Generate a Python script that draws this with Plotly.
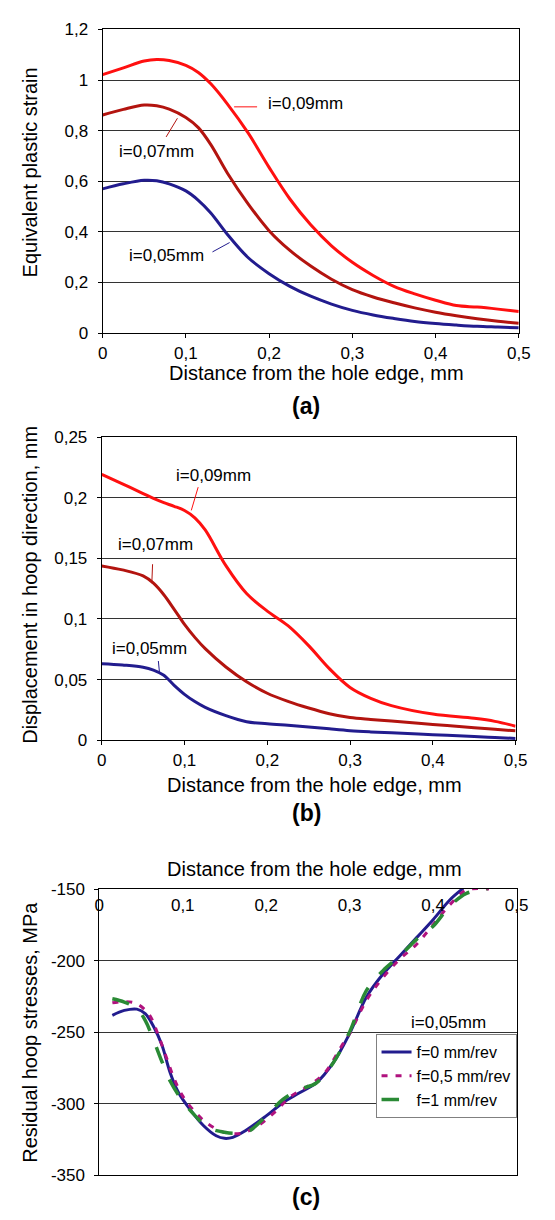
import plotly.graph_objects as go

# ---------------- data ----------------
# Panel (a): equivalent plastic strain
A_X = [0, 0.025, 0.05, 0.065, 0.08, 0.1, 0.115, 0.13, 0.15, 0.175, 0.2, 0.225, 0.25, 0.275, 0.3,
       0.325, 0.35, 0.375, 0.4, 0.425, 0.45, 0.475, 0.5]
A_I09 = [1.021, 1.048, 1.075, 1.081, 1.077, 1.058, 1.03, 0.985, 0.905, 0.79, 0.655, 0.53, 0.428, 0.345, 0.28,
         0.228, 0.185, 0.155, 0.13, 0.109, 0.103, 0.095, 0.086]
A_I07 = [0.862, 0.884, 0.901, 0.898, 0.885, 0.852, 0.812, 0.745, 0.632, 0.51, 0.405, 0.327, 0.265, 0.213, 0.172,
         0.143, 0.12, 0.1, 0.083, 0.069, 0.057, 0.047, 0.039]
A_I05 = [0.57, 0.59, 0.604, 0.602, 0.59, 0.562, 0.525, 0.475, 0.39, 0.298, 0.235, 0.185, 0.146, 0.115, 0.09,
         0.072, 0.058, 0.046, 0.038, 0.032, 0.027, 0.024, 0.021]

# Panel (b): displacement in hoop direction
B_X = [0, 0.025, 0.05, 0.0625, 0.075, 0.0875, 0.1, 0.1125, 0.125, 0.15, 0.175, 0.2, 0.225, 0.25, 0.275,
       0.3, 0.325, 0.35, 0.4, 0.45, 0.475, 0.5]
B_I09 = [0.2194, 0.2115, 0.2035, 0.1995, 0.196, 0.193, 0.1895, 0.1835, 0.1735, 0.144, 0.121, 0.1065, 0.0945,
         0.078, 0.059, 0.0435, 0.0345, 0.0285, 0.0215, 0.018, 0.0155, 0.0115]
B_I07 = [0.1438, 0.1405, 0.1355, 0.1295, 0.12, 0.108, 0.0955, 0.0848, 0.0755, 0.0604, 0.0482, 0.0387, 0.032,
         0.0265, 0.0218, 0.0186, 0.017, 0.0157, 0.013, 0.0103, 0.009, 0.0077]
B_I05 = [0.0631, 0.062, 0.0602, 0.0578, 0.0535, 0.0452, 0.0378, 0.0318, 0.027, 0.0202, 0.0152, 0.0135, 0.0122,
         0.0109, 0.0093, 0.0078, 0.0068, 0.006, 0.0045, 0.003, 0.0022, 0.0014]

# Panel (c): residual hoop stresses (i=0,05mm)
C_X_F0 = [0.0156, 0.03, 0.045, 0.055, 0.065, 0.075, 0.085, 0.095, 0.11, 0.125, 0.14, 0.15, 0.16, 0.175,
          0.2, 0.22, 0.24, 0.26, 0.28, 0.3, 0.32, 0.34, 0.36, 0.38, 0.4, 0.42, 0.436]
C_Y_F0 = [-238.2, -234.8, -233.9, -237, -246, -259, -278.6, -292.4, -305, -315.4, -322.4, -324.2, -323.5, -318.9,
          -308.5, -299.3, -292.4, -285.5, -271.7, -250.9, -225.6, -209.4, -196.8, -184.1, -171.4, -157.6, -149.5]
C_X_F05 = [0.0156, 0.03, 0.045, 0.06, 0.07, 0.08, 0.09, 0.1, 0.115, 0.13, 0.15, 0.17, 0.19, 0.21, 0.23, 0.25,
           0.27, 0.29, 0.3, 0.32, 0.34, 0.36, 0.38, 0.4, 0.42, 0.44, 0.467]
C_Y_F05 = [-229.5, -228.6, -230.2, -238, -251, -267, -283, -294.7, -306, -314, -320, -320.7, -315.4, -306, -294.7, -287.8,
           -278.6, -260, -251, -227.9, -211.8, -199, -188.7, -174.9, -161, -150.7, -150]
C_X_F1 = [0.0156, 0.03, 0.045, 0.055, 0.065, 0.075, 0.085, 0.1, 0.115, 0.13, 0.15, 0.165, 0.18, 0.2, 0.22, 0.24,
          0.26, 0.28, 0.3, 0.32, 0.34, 0.36, 0.38, 0.4, 0.42, 0.44, 0.465]
C_Y_F1 = [-226.7, -229, -233.6, -241.7, -255.5, -270.5, -284.3, -298.2, -308.5, -316.6, -320, -320.7, -318.9, -308.5, -297, -290,
          -285.5, -271.7, -249.8, -221, -207, -196.8, -185.3, -176, -162, -153, -150]

# Ticks
X_TICKS = [0, 0.1, 0.2, 0.3, 0.4, 0.5]
X_TICKTEXT = ["0", "0,1", "0,2", "0,3", "0,4", "0,5"]
A_YTICKS = [0, 0.2, 0.4, 0.6, 0.8, 1.0, 1.2]
A_YTICKTEXT = ["0", "0,2", "0,4", "0,6", "0,8", "1", "1,2"]
B_YTICKS = [0, 0.05, 0.1, 0.15, 0.2, 0.25]
B_YTICKTEXT = ["0", "0,05", "0,1", "0,15", "0,2", "0,25"]
C_YTICKS = [-350, -300, -250, -200, -150]
C_YTICKTEXT = ["-350", "-300", "-250", "-200", "-150"]

SERIES_NAMES = ["i=0,09mm", "i=0,07mm", "i=0,05mm"]
LEGEND_NAMES = ["f=0 mm/rev", "f=0,5 mm/rev", "f=1 mm/rev"]

# ---------------- style ----------------
W, H = 555, 1220
FONT = "Liberation Sans, Arial, sans-serif"
RED = "#FF1010"
DARKRED = "#B3140F"
NAVY = "#221C8E"
MAGENTA = "#B0127E"
GREEN = "#2A8A35"
GRID = "#333333"


def px(x):
    return x / W


def py(y):
    return 1 - y / H


fig = go.Figure()

# Panel (a)
for ys, c, n in [(A_I09, RED, SERIES_NAMES[0]), (A_I07, DARKRED, SERIES_NAMES[1]), (A_I05, NAVY, SERIES_NAMES[2])]:
    fig.add_trace(go.Scatter(x=A_X, y=ys, mode="lines", name=n, showlegend=False,
                             line=dict(color=c, width=3, shape="spline", smoothing=1.0),
                             xaxis="x", yaxis="y"))
# Panel (b)
for ys, c, n in [(B_I09, RED, SERIES_NAMES[0]), (B_I07, DARKRED, SERIES_NAMES[1]), (B_I05, NAVY, SERIES_NAMES[2])]:
    fig.add_trace(go.Scatter(x=B_X, y=ys, mode="lines", name=n, showlegend=False,
                             line=dict(color=c, width=3, shape="spline", smoothing=1.0),
                             xaxis="x2", yaxis="y2"))
# Panel (c)
fig.add_trace(go.Scatter(x=C_X_F0, y=C_Y_F0, mode="lines", name=LEGEND_NAMES[0],
                         line=dict(color=NAVY, width=3, shape="spline", smoothing=1.0),
                         xaxis="x3", yaxis="y3"))
fig.add_trace(go.Scatter(x=C_X_F05, y=C_Y_F05, mode="lines", name=LEGEND_NAMES[1],
                         line=dict(color=MAGENTA, width=3, dash="6px,8px", shape="spline", smoothing=1.0),
                         xaxis="x3", yaxis="y3"))
fig.add_trace(go.Scatter(x=C_X_F1, y=C_Y_F1, mode="lines", name=LEGEND_NAMES[2],
                         line=dict(color=GREEN, width=3.5, dash="longdash", shape="spline", smoothing=1.0),
                         xaxis="x3", yaxis="y3"))

tickfont = dict(family=FONT, size=17, color="#000000")
common_x = dict(range=[0, 0.5], tickvals=X_TICKS, ticktext=X_TICKTEXT, showgrid=False, zeroline=False,
                showline=True, linecolor="#000000", linewidth=1, tickfont=tickfont, fixedrange=True,
                ticklabeloverflow="allow")
common_y = dict(showgrid=True, gridcolor=GRID, gridwidth=1, zeroline=False, showline=True,
                linecolor="#000000", linewidth=1, ticks="outside", ticklen=4, tickcolor="#000000",
                tickfont=tickfont, mirror=True, ticklabelstandoff=6, fixedrange=True,
                ticklabeloverflow="allow")

fig.update_layout(
    width=W, height=H, autosize=False,
    margin=dict(l=0, r=0, t=0, b=0),
    paper_bgcolor="white", plot_bgcolor="white",
    font=dict(family=FONT, size=17, color="#000000"),
    xaxis=dict(common_x, domain=[px(100.7), px(530)], anchor="y", ticks="outside", ticklen=4,
               tickcolor="#000000", mirror=True),
    yaxis=dict(common_y, domain=[py(329.3), py(20.7)], anchor="x", range=[0, 1.2],
               tickvals=A_YTICKS, ticktext=A_YTICKTEXT),
    xaxis2=dict(common_x, domain=[px(99.8), px(526.7)], anchor="y2", ticks="outside", ticklen=4,
                tickcolor="#000000", mirror=True),
    yaxis2=dict(common_y, domain=[py(742.7), py(435)], anchor="x2", range=[0, 0.25],
                tickvals=B_YTICKS, ticktext=B_YTICKTEXT),
    xaxis3=dict(common_x, domain=[px(97.3), px(527.7)], anchor="y3", side="top", ticks="",
                ticklabelposition="inside", ticklabelstandoff=10, mirror=True),
    yaxis3=dict(common_y, domain=[py(1184.7), py(894)], anchor="x3", range=[-350, -150],
                tickvals=C_YTICKS, ticktext=C_YTICKTEXT),
    legend=dict(x=px(527.7), xanchor="right", y=py(1084), yanchor="middle",
                bgcolor="white", bordercolor="#808080", borderwidth=1,
                font=dict(family=FONT, size=16, color="#000000"),
                itemwidth=30, tracegroupgap=0),
    showlegend=True,
)

TITLE = 20
ann = []


def text(x, y, s, size=TITLE, angle=0, bold=False, ref=("paper", "paper")):
    ann.append(dict(x=x, y=y, xref=ref[0], yref=ref[1], text=("<b>%s</b>" % s) if bold else s,
                    showarrow=False, textangle=angle, xanchor="center", yanchor="middle",
                    font=dict(family=FONT, size=size, color="#000000")))


XTITLE = "Distance from the hole edge, mm"
# Axis titles
text(px(321), py(370), XTITLE)
text(px(319), py(788.3), XTITLE)
text(px(319), py(873.3), XTITLE)
text(px(25.8), py(166), "Equivalent plastic strain", angle=-90)
text(px(25.7), py(585), "Displacement in hoop direction, mm", angle=-90)
text(px(25.7), py(1039), "Residual hoop stresses, MPa", angle=-90)
# Panel labels
text(px(310.6), py(403.3), "(a)", size=23, bold=True)
text(px(311.5), py(816.7), "(b)", size=23, bold=True)
text(px(310.6), py(1206.7), "(c)", size=23, bold=True)

# Curve labels, panel (a)
text(0.2437, 0.907, SERIES_NAMES[0], size=17, ref=("x", "y"))
text(0.0648, 0.717, SERIES_NAMES[1], size=17, ref=("x", "y"))
text(0.0771, 0.306, SERIES_NAMES[2], size=17, ref=("x", "y"))
# Curve labels, panel (b)
text(0.1347, 0.218, SERIES_NAMES[0], size=17, ref=("x2", "y2"))
text(0.0651, 0.1614, SERIES_NAMES[1], size=17, ref=("x2", "y2"))
text(0.0576, 0.0758, SERIES_NAMES[2], size=17, ref=("x2", "y2"))
# Panel (c) label
text(0.418, -243, "i=0,05mm", size=17, ref=("x3", "y3"))

fig.update_layout(annotations=ann)

# Leader lines
leaders = [
    ("x", "y", 0.158, 0.894, 0.1856, 0.894, RED),
    ("x", "y", 0.0763, 0.775, 0.0899, 0.849, DARKRED),
    ("x", "y", 0.132, 0.321, 0.1526, 0.358, NAVY),
    ("x2", "y2", 0.1082, 0.1896, 0.1165, 0.2088, RED),
    ("x2", "y2", 0.0605, 0.1295, 0.0614, 0.1452, DARKRED),
    ("x2", "y2", 0.0697, 0.0563, 0.0684, 0.0653, NAVY),
]
for xr, yr, x0, y0, x1, y1, c in leaders:
    fig.add_shape(type="line", xref=xr, yref=yr, x0=x0, y0=y0, x1=x1, y1=y1,
                  line=dict(color=c, width=1))

fig.write_html("out.html")
